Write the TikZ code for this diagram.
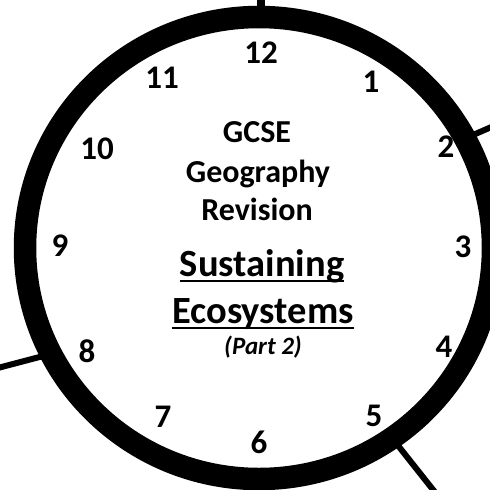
\documentclass[tikz,border=0pt]{standalone}
\usepackage{fontspec}
\setmainfont{Carlito}
\usetikzlibrary{shapes.geometric}

\begin{document}
\begin{tikzpicture}[x=1pt,y=-1pt,
    num/.style={inner sep=0pt,font=\fontsize{33}{39}\selectfont\bfseries},
    ttl/.style={inner sep=0pt,anchor=base,font=\fontsize{32}{38}\selectfont\bfseries},
    big/.style={inner sep=0pt,anchor=base,font=\fontsize{38.5}{46}\selectfont\bfseries},
    spoke/.style={line width=6pt},
    ul/.style={line width=2.5pt}]
    \useasboundingbox (0,0) rectangle (490,490);
    \clip (0,0) rectangle (490,490);

    % циферблат
    \node[draw,ellipse,line width=22.5pt,outer sep=0pt,inner sep=0pt,
        minimum width=468pt,minimum height=462pt] (clock) at (259,248) {};

    % лучи
    \coordinate (eTop) at (261,-5);
    \coordinate (eRight) at (496,125);
    \coordinate (eLeft) at (-6,369);
    \coordinate (eDown) at (438,496);
    \draw[spoke,line width=8pt] ([xshift=2pt]clock.north) -- (eTop);
    \draw[spoke] (clock.28) -- (eRight);
    \draw[spoke] (clock.207) -- (eLeft);
    \draw[spoke] (clock.305) -- (eDown);

    % цифры
    \node[num] (n12) at (261,53) {12};
    \node[num] (n1) at (371,82) {1};
    \node[num] (n2) at (446,147) {2};
    \node[num] (n3) at (463,247) {3};
    \node[num] (n4) at (444,347) {4};
    \node[num] (n5) at (374,416) {5};
    \node[num] (n6) at (259,442) {6};
    \node[num] (n7) at (163,417) {7};
    \node[num] (n8) at (87,351) {8};
    \node[num] (n9) at (60,246) {9};
    \node[num] (n10) at (97,149) {10};
    \node[num] (n11) at (162,78) {11};

    % заголовок
    \node[ttl] (gcse) at (257,142) {GCSE};
    \node[ttl] (geo) at (258,182) {Geography};
    \node[ttl] (rev) at (257,220) {Revision};
    \node[big] (sus) at (262,276) {Sustaining};
    \node[big] (eco) at (263,323) {Ecosystems};
    \node[ttl,font=\fontsize{25}{30}\selectfont\bfseries\itshape] (part) at (263,354) {(Part 2)};
    \draw[ul] ([yshift=-5pt]sus.base west) -- ([yshift=-5pt]sus.base east);
    \draw[ul] ([yshift=-5pt]eco.base west) -- ([yshift=-5pt]eco.base east);
\end{tikzpicture}
\end{document}
